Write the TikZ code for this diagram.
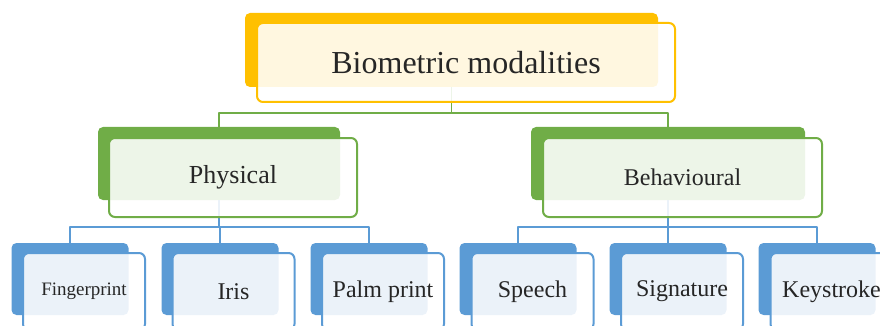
\documentclass[tikz,border=0pt]{standalone}
\usepackage{fontspec}
\setmainfont{Liberation Serif}
\definecolor{gold}{HTML}{FFC000}
\definecolor{leafgreen}{HTML}{70AD47}
\definecolor{skyblue}{HTML}{5B9BD5}
\begin{document}
\begin{tikzpicture}[x=1pt,y=-1pt,line join=round]
  \tikzstyle{back}=[rectangle,rounded corners=5pt,inner sep=0pt]
  \tikzstyle{front}=[rectangle,rounded corners=6pt,inner sep=0pt,line width=2pt,
    fill=white,fill opacity=0.88,text opacity=1,text=black!85,align=center]
  \tikzstyle{topback}=[back,fill=gold,minimum width=413pt,minimum height=74pt]
  \tikzstyle{topfront}=[front,draw=gold,minimum width=418pt,minimum height=79pt,
    font=\fontsize{32}{36}\selectfont]
  \tikzstyle{midback}=[back,fill=leafgreen,minimum height=73pt]
  \tikzstyle{midfront}=[front,draw=leafgreen,minimum height=79pt,
    font=\fontsize{24}{28}\selectfont]
  \tikzstyle{leafback}=[back,fill=skyblue,minimum width=117pt,minimum height=72pt]
  \tikzstyle{leaffront}=[front,draw=skyblue,minimum width=122pt,minimum height=77pt,
    font=\fontsize{24}{28}\selectfont]
  \tikzstyle{greenline}=[draw=leafgreen,line width=1.6pt]
  \tikzstyle{blueline}=[draw=skyblue,line width=1.6pt]

  \useasboundingbox (0,0) rectangle (880,326);
  \clip (0,0) rectangle (880,326);

  % back plates
  \node[topback] (bio-b) at (451.5,50) {};
  \node[midback,minimum width=242pt] (phy-b) at (219,163.5) {};
  \node[midback,minimum width=274pt] (beh-b) at (668,163.5) {};
  \node[leafback] (fin-b) at (70,279)  {};
  \node[leafback] (iri-b) at (220,279) {};
  \node[leafback] (pal-b) at (369,279) {};
  \node[leafback] (spe-b) at (518,279) {};
  \node[leafback] (sig-b) at (668,279) {};
  \node[leafback] (key-b) at (817,279) {};

  % connectors
  \draw[greenline] (bio-b.south) -- ++(0,26) -| (phy-b.north);
  \draw[greenline] (bio-b.south) -- ++(0,26) -| (beh-b.north);
  \draw[blueline] (phy-b.south) -- ++(0,27) -| (fin-b.north);
  \draw[blueline] (phy-b.south) -- ++(0,27) -| (iri-b.north);
  \draw[blueline] (phy-b.south) -- ++(0,27) -| (pal-b.north);
  \draw[blueline] (beh-b.south) -- ++(0,27) -| (spe-b.north);
  \draw[blueline] (beh-b.south) -- ++(0,27) -| (sig-b.north);
  \draw[blueline] (beh-b.south) -- ++(0,27) -| (key-b.north);

  % text boxes
  \node[topfront] (bio) at (466,62.5) {Biometric modalities};
  \node[midfront,minimum width=248pt,font=\fontsize{26}{30}\selectfont] (phy) at (233,177.5) {Physical};
  \node[midfront,minimum width=279pt] (beh) at (682.5,177.5) {Behavioural};
  \node[leaffront,font=\fontsize{19}{22}\selectfont] (fin) at (84,291.5) {Fingerprint};
  \node[leaffront] (iri) at (233.5,291.5) {Iris};
  \node[leaffront] (pal) at (383,291.5)   {Palm print};
  \node[leaffront] (spe) at (532.5,291.5) {Speech};
  \node[leaffront] (sig) at (682,291.5)   {Signature};
  \node[leaffront] (key) at (831.5,291.5) {Keystroke};
\end{tikzpicture}
\end{document}
